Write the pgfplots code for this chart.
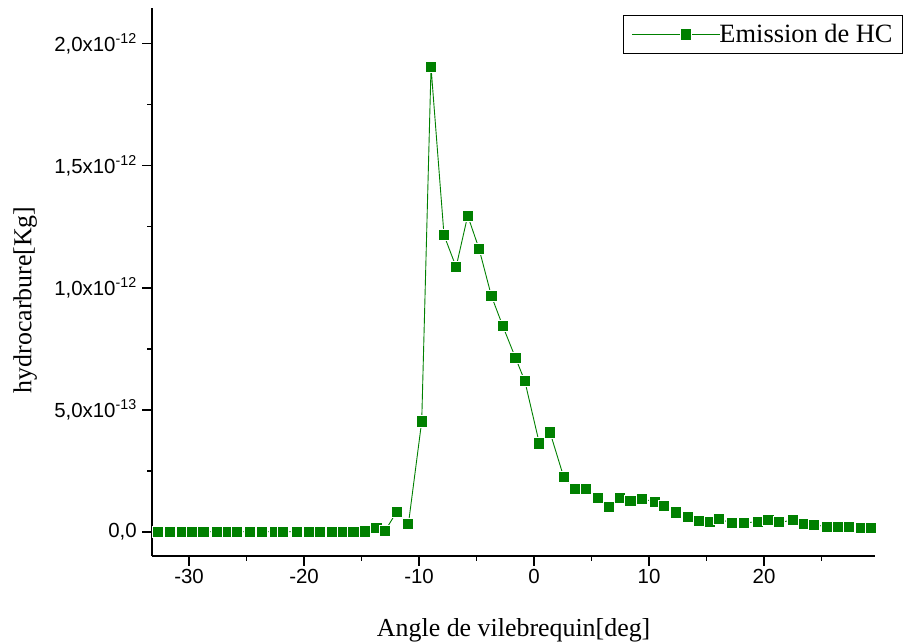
\documentclass[border=0pt]{standalone}
\usepackage{fontspec}
\setmainfont{Liberation Serif}
\newfontfamily\arialfont{Liberation Sans}
\usepackage{pgfplots}
\pgfplotsset{compat=1.18}
\definecolor{hcgreen}{RGB}{0,128,0}

\begin{document}
\begin{tikzpicture}
\begin{axis}[
  scale only axis,
  width=722.7bp, height=547.7bp,
  xmin=-33.2, xmax=29.65,
  ymin=-0.098e-12, ymax=2.146e-12,
  axis x line=bottom, axis y line=left,
  axis line style={-, line width=1.6bp, black},
  tick align=outside,
  major tick length=10bp, minor tick length=5bp,
  every tick/.style={black, line width=1.6bp},
  xtick={-30,-20,-10,0,10,20},
  xticklabels={-30,-20,-10,0,10,20},
  minor xtick={-25,-15,-5,5,15,25},
  ytick={0,5e-13,1e-12,1.5e-12,2e-12},
  yticklabels={{0,0},{5,0x10\textsuperscript{-13}},{1,0x10\textsuperscript{-12}},{1,5x10\textsuperscript{-12}},{2,0x10\textsuperscript{-12}}},
  minor ytick={2.5e-13,7.5e-13,1.25e-12,1.75e-12},
  scaled y ticks=false,
  scaled x ticks=false,
  ticklabel style={font=\arialfont\fontsize{20.5}{24}\selectfont},
  yticklabel style={xshift=-2bp},
  xlabel={Angle de vilebrequin[deg]},
  ylabel={hydrocarbure[Kg]},
  label style={font=\fontsize{26}{31}\selectfont},
  xlabel style={at={(axis description cs:0.5,-0.1475)}, anchor=base},
  ylabel style={at={(axis description cs:-0.176,0.467)}, anchor=center},
  legend style={at={(1.0387,0.987)}, anchor=north east, draw=black, line width=0.8bp,
    font=\fontsize{26.5}{31}\selectfont, inner xsep=8bp, inner ysep=7bp,
    nodes={inner sep=2bp}},
  legend image code/.code={%
    \path (-19bp,0) -- (65.7bp,0);
    \draw[overlay, line width=0.9bp, mark repeat=2, mark phase=2] plot coordinates {(0bp,0bp) (34.35bp,0bp) (68.7bp,0bp)};},
]
\addplot[color=hcgreen, line width=0.9bp, mark=square*, mark size=5.6bp,
  mark options={fill=hcgreen, draw=white, line width=1bp}] table {
x y
-32.67 0
-31.65 0
-30.63 0
-29.77 0
-28.75 0
-27.59 0
-26.58 0
-25.85 0
-24.70 0
-23.68 0
-22.50 0
-21.80 0
-20.60 0
-19.60 0
-18.60 0
-17.60 0
-16.60 0
-15.70 0
-14.70 0.001e-12
-13.70 0.014e-12
-12.96 0.004e-12
-11.94 0.082e-12
-10.93 0.031e-12
-9.77 0.452e-12
-8.96 1.903e-12
-7.83 1.215e-12
-6.78 1.085e-12
-5.77 1.295e-12
-4.78 1.159e-12
-3.71 0.966e-12
-2.72 0.843e-12
-1.62 0.713e-12
-0.81 0.619e-12
0.46 0.362e-12
1.39 0.407e-12
2.58 0.224e-12
3.57 0.175e-12
4.55 0.175e-12
5.59 0.137e-12
6.50 0.100e-12
7.48 0.137e-12
8.38 0.126e-12
9.36 0.135e-12
10.52 0.123e-12
11.33 0.104e-12
12.35 0.079e-12
13.36 0.060e-12
14.35 0.044e-12
15.30 0.039e-12
16.09 0.051e-12
17.19 0.037e-12
18.29 0.037e-12
19.45 0.041e-12
20.38 0.048e-12
21.30 0.039e-12
22.50 0.047e-12
23.45 0.033e-12
24.37 0.028e-12
25.50 0.021e-12
26.43 0.021e-12
27.36 0.021e-12
28.40 0.015e-12
29.30 0.015e-12
};
\addlegendentry{Emission de HC}
\end{axis}
\pgfresetboundingbox
\path (current axis.south west) ++(-152.3bp,-86.3bp) rectangle ++(905bp,642bp);
\end{tikzpicture}
\end{document}
